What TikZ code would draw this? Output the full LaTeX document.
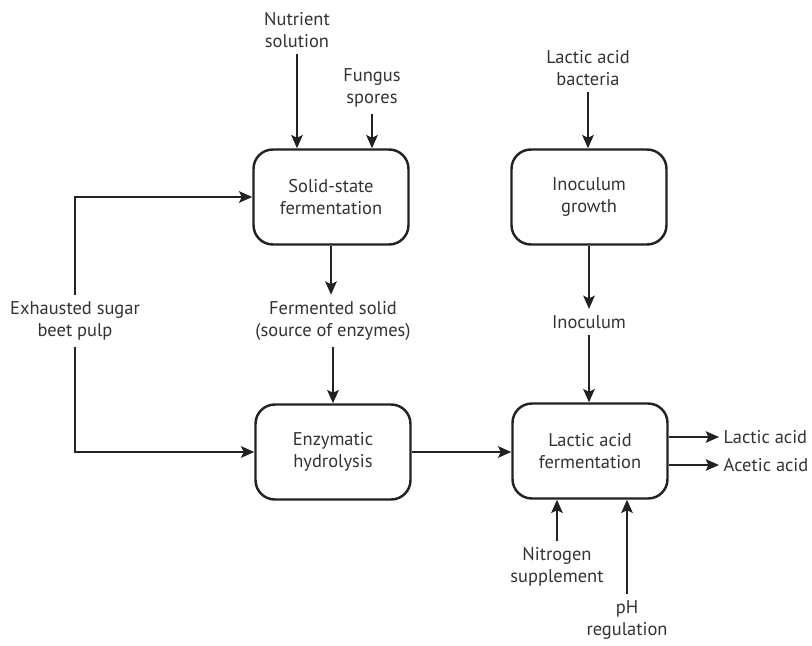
\documentclass[tikz,border=0pt]{standalone}
\usepackage{fontspec}
\setmainfont{PT Sans}
\usetikzlibrary{arrows.meta}
\definecolor{cline}{HTML}{222222}
\definecolor{ctext}{HTML}{333333}
\begin{document}
\begin{tikzpicture}[>={Stealth[length=7.5pt,width=6.5pt,inset=1.5pt]}, x=0.02cm, y=-0.02cm,
  line width=1.4pt, draw=cline,
  proc/.style={draw=cline, rounded corners=11pt, minimum width=3.1cm, minimum height=1.9cm,
    align=center, text=ctext, font=\fontsize{10.5}{12.8}\selectfont},
  lbl/.style={align=center, inner sep=3pt, text=ctext, font=\fontsize{10.5}{12.8}\selectfont}]
  \useasboundingbox (0,0) rectangle (812,646);
  \node[proc] (ssf) at (331,197) {Solid-state\\fermentation};
  \node[proc] (grow) at (589,197) {Inoculum\\growth};
  \node[proc] (hyd) at (333,452) {Enzymatic\\hydrolysis};
  \node[proc] (laf) at (590,451) {Lactic acid\\fermentation};
  \node[lbl] (nutr) at (297,30) {Nutrient\\solution};
  \node[lbl] (spore) at (372,88) {Fungus\\spores};
  \node[lbl] (lab) at (588,68) {Lactic acid\\bacteria};
  \node[lbl] (solid) at (333,321) {Fermented solid\\(source of enzymes)};
  \node[lbl] (inoc) at (589,322) {Inoculum};
  \node[lbl] (pulp) at (75,321) {Exhausted sugar\\beet pulp};
  \node[lbl] (nitro) at (557,567) {Nitrogen\\supplement};
  \node[lbl] (ph) at (627,620) {pH\\regulation};
  \node[lbl, anchor=west, inner sep=2pt] (lacout) at (719,437) {Lactic acid};
  \node[lbl, anchor=west, inner sep=2pt] (aceout) at (719,465) {Acetic acid};
  \draw[->] (nutr.south) -- (nutr.south |- ssf.north);
  \draw[->] (spore.south) -- (spore.south |- ssf.north);
  \draw[->] (lab.south) -- (lab.south |- grow.north);
  \draw[->] (ssf.south) -- (ssf.south |- solid.north);
  \draw[->] (solid.south) -- (solid.south |- hyd.north);
  \draw[->] (grow.south) -- (grow.south |- inoc.north);
  \draw[->] (inoc.south) -- (inoc.south |- laf.north);
  \draw[->] (pulp.north) |- (ssf.west);
  \draw[->] (pulp.south) |- (hyd.west);
  \draw[->] (hyd.east) -- (hyd.east -| laf.west);
  \draw[->] (laf.east |- lacout) -- (lacout.west);
  \draw[->] (laf.east |- aceout) -- (aceout.west);
  \draw[->] (nitro.north) -- (nitro.north |- laf.south);
  \draw[->] (ph.north) -- (ph.north |- laf.south);
\end{tikzpicture}
\end{document}
